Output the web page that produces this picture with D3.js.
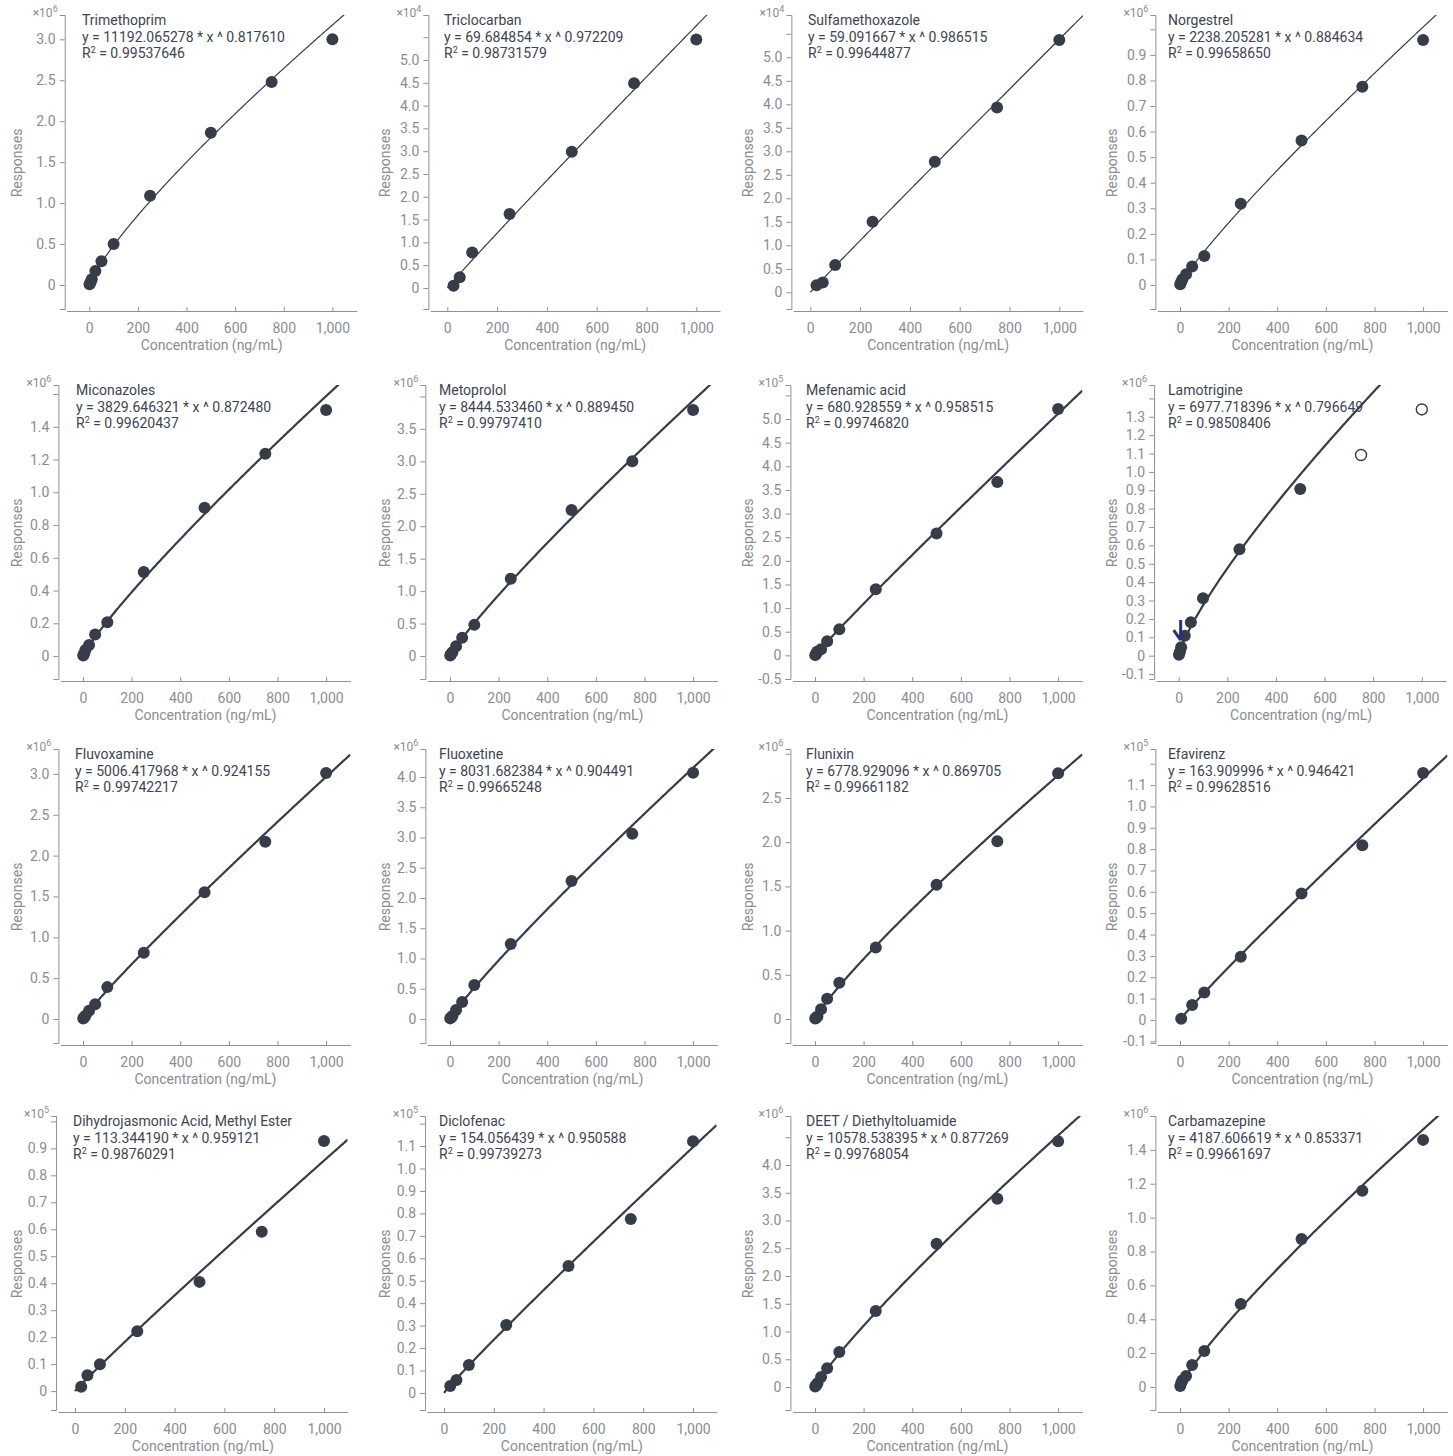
<!DOCTYPE html>
<html>
<head>
<meta charset="utf-8">
<script src="https://cdn.jsdelivr.net/npm/d3@7"></script>
<style>
  html, body { margin: 0; background: #ffffff; }
  svg { display: block; font-family: Roboto, "Noto Sans", sans-serif; }
</style>
</head>
<body>
<svg id="chart" width="1453" height="1456"></svg>
<script>
// ---- calibration data -------------------------------------------------
const compounds = [
  "Trimethoprim", "Triclocarban", "Sulfamethoxazole", "Norgestrel",
  "Miconazoles", "Metoprolol", "Mefenamic acid", "Lamotrigine",
  "Fluvoxamine", "Fluoxetine", "Flunixin", "Efavirenz",
  "Dihydrojasmonic Acid, Methyl Ester", "Diclofenac", "DEET / Diethyltoluamide", "Carbamazepine"
];
// power fit y = a * x ^ b
const coefA = ["11192.065278", "69.684854", "59.091667", "2238.205281",
  "3829.646321", "8444.533460", "680.928559", "6977.718396",
  "5006.417968", "8031.682384", "6778.929096", "163.909996",
  "113.344190", "154.056439", "10578.538395", "4187.606619"];
const coefB = ["0.817610", "0.972209", "0.986515", "0.884634",
  "0.872480", "0.889450", "0.958515", "0.796649",
  "0.924155", "0.904491", "0.869705", "0.946421",
  "0.959121", "0.950588", "0.877269", "0.853371"];
const rSquared = ["0.99537646", "0.98731579", "0.99644877", "0.99658650",
  "0.99620437", "0.99797410", "0.99746820", "0.98508406",
  "0.99742217", "0.99665248", "0.99661182", "0.99628516",
  "0.98760291", "0.99739273", "0.99768054", "0.99661697"];
// responses are shown in units of 10^n
const powerOfTen = [6, 4, 4, 6, 6, 6, 5, 6, 6, 6, 6, 5, 5, 5, 6, 6];

// concentration levels (ng/mL)
const concFull = [1, 5, 10, 25, 50, 100, 250, 500, 750, 1000];
const concHigh = [25, 50, 100, 250, 500, 750, 1000];
const concLamotrigine = [1, 5, 10, 25, 50, 100, 250, 500];
const concEfavirenz = [5, 50, 100, 250, 500, 750, 1000];

// measured responses (scaled by 10^n)
const trimethoprim = [0.008, 0.03, 0.07, 0.17, 0.29, 0.50, 1.09, 1.86, 2.48, 3.00];
const triclocarban = [0.05, 0.235, 0.78, 1.62, 2.99, 4.49, 5.45];
const sulfamethoxazole = [0.15, 0.21, 0.58, 1.50, 2.78, 3.93, 5.37];
const norgestrel = [0.003, 0.012, 0.022, 0.042, 0.072, 0.113, 0.318, 0.565, 0.775, 0.958];
const miconazoles = [0.004, 0.015, 0.037, 0.067, 0.132, 0.206, 0.513, 0.905, 1.235, 1.502];
const metoprolol = [0.008, 0.03, 0.06, 0.15, 0.28, 0.48, 1.19, 2.25, 3.00, 3.79];
const mefenamicAcid = [0.005, 0.04, 0.08, 0.13, 0.30, 0.55, 1.40, 2.58, 3.67, 5.21];
const lamotrigine = [0.005, 0.02, 0.046, 0.109, 0.182, 0.312, 0.579, 0.907];
const fluvoxamine = [0.005, 0.02, 0.04, 0.10, 0.18, 0.39, 0.81, 1.55, 2.17, 3.01];
const fluoxetine = [0.01, 0.03, 0.05, 0.15, 0.28, 0.56, 1.24, 2.28, 3.06, 4.07];
const flunixin = [0.005, 0.015, 0.03, 0.11, 0.23, 0.41, 0.81, 1.52, 2.01, 2.78];
const efavirenz = [0.006, 0.07, 0.128, 0.296, 0.592, 0.818, 1.157];
const dihydrojasmonate = [0.016, 0.059, 0.10, 0.222, 0.405, 0.591, 0.927];
const diclofenac = [0.031, 0.058, 0.125, 0.303, 0.566, 0.775, 1.122];
const deet = [0.01, 0.03, 0.07, 0.18, 0.34, 0.63, 1.37, 2.58, 3.39, 4.43];
const carbamazepine = [0.005, 0.024, 0.04, 0.065, 0.13, 0.213, 0.49, 0.874, 1.158, 1.459];

// Lamotrigine levels excluded from the fit (open markers) and flagged level
const lamotrigineExcludedConc = [750, 1000];
const lamotrigineExcluded = [1.092, 1.34];
const lamotrigineFlag = [8, 0.085];

const panelConc = [concFull, concHigh, concHigh, concFull,
  concFull, concFull, concFull, concLamotrigine,
  concFull, concFull, concFull, concEfavirenz,
  concHigh, concHigh, concFull, concFull];
const panelResp = [trimethoprim, triclocarban, sulfamethoxazole, norgestrel,
  miconazoles, metoprolol, mefenamicAcid, lamotrigine,
  fluvoxamine, fluoxetine, flunixin, efavirenz,
  dihydrojasmonate, diclofenac, deet, carbamazepine];

// y tick spacing and labelled tick range
const yTickStep = [0.5, 0.5, 0.5, 0.1, 0.2, 0.5, 0.5, 0.1, 0.5, 0.5, 0.5, 0.1, 0.1, 0.1, 0.5, 0.2];
const yLabelMin = [0, 0, 0, 0, 0, 0, -0.5, -0.1, 0, 0, 0, -0.1, 0, 0, 0, 0];
const yLabelMax = [3.0, 5.0, 5.0, 0.9, 1.4, 3.5, 5.0, 1.3, 3.0, 4.0, 2.5, 1.1, 0.9, 1.1, 4.0, 1.4];
const xTickValues = [0, 200, 400, 600, 800, 1000];

// ---- layout ------------------------------------------------------------
const yDomains = [
  [-0.293, 3.297], [-0.461, 5.987], [-0.355, 5.900], [-0.094, 1.056],
  [-0.140, 1.655], [-0.354, 4.176], [-0.500, 5.720], [-0.127, 1.473],
  [-0.294, 3.305], [-0.397, 4.463], [-0.271, 3.054], [-0.108, 1.269],
  [-0.070, 1.020], [-0.076, 1.234], [-0.414, 4.883], [-0.136, 1.600]
];
const rowAxisY = [311, 681, 1045, 1412];
const zeroPx = [89.3, 447.3, 810.3, 1180, 83, 450, 815, 1178.7, 83, 450, 815, 1180, 75, 444, 815, 1180];
const titleX = [82, 444, 808, 1168, 76, 439, 806, 1168, 75, 439, 806, 1168, 73, 439, 806, 1168];
const respLabelX = [17, 385, 748, 1112];

const INK = "#363c48";
const TEXT = "#3e4451";
const AXIS = "#8e9195";
const TICK_TEXT = "#8a8d92";

const svg = d3.select("#chart");
const fmtTick = v => Math.abs(v) < 1e-9 ? "0" : v.toFixed(1);

compounds.forEach((name, i) => {
  const row = Math.floor(i / 4), col = i % 4;
  const axisY = rowAxisY[row];
  const conc = panelConc[i];
  const resp = panelResp[i];
  const hasLow = conc[0] < 10;
  const xDom = hasLow ? [-93, 1100] : [-68, 1095];
  const pxPer = hasLow ? 0.2431 : 0.249;
  const x = d3.scaleLinear().domain(xDom)
    .range([zeroPx[i] + xDom[0] * pxPer, zeroPx[i] + xDom[1] * pxPer]);
  const y = d3.scaleLinear().domain(yDomains[i]).range([axisY - 2, axisY - 296]);
  const [x0, x1] = x.range();
  const top = axisY - 296;
  const left = x0 - 2;
  const g = svg.append("g").attr("class", "panel");

  // y axis
  const step = yTickStep[i];
  const [lo, hi] = yDomains[i];
  const ticks = d3.range(Math.ceil(lo / step - 1e-6), Math.floor(hi / step + 1e-6) + 1)
    .map(k => +(k * step).toFixed(3));
  const yAxis = d3.axisLeft(y).tickValues(ticks).tickSize(5).tickSizeOuter(5).tickPadding(4)
    .tickFormat(v => (v >= yLabelMin[i] - 1e-9 && v <= yLabelMax[i] + 1e-9) ? fmtTick(v) : "");
  const gy = g.append("g").attr("transform", `translate(${left},0)`).call(yAxis);
  gy.selectAll("path, line").attr("stroke", AXIS);
  gy.selectAll("text").attr("fill", TICK_TEXT).style("font-size", "14px").style("font-family", "Roboto");

  // x axis
  const xAxis = d3.axisBottom(x).tickValues(xTickValues).tickSize(-4).tickSizeOuter(0).tickPadding(12)
    .tickFormat(d3.format(","));
  const gx = g.append("g").attr("transform", `translate(0,${axisY})`).call(xAxis);
  gx.selectAll("path, line").attr("stroke", AXIS);
  gx.selectAll("text").attr("fill", TICK_TEXT).style("font-size", "14px").style("font-family", "Roboto");

  // axis titles
  g.append("text")
    .attr("x", (x0 + x1) / 2).attr("y", axisY + 39)
    .attr("text-anchor", "middle").attr("fill", TICK_TEXT)
    .style("font-size", "14px")
    .text("Concentration (ng/mL)");
  g.append("text")
    .attr("transform", `translate(${respLabelX[col] + 5},${(axisY + top) / 2}) rotate(-90)`)
    .attr("text-anchor", "middle").attr("fill", TICK_TEXT)
    .style("font-size", "14px")
    .text("Responses");

  // multiplier
  const mult = g.append("text")
    .attr("x", left - 7).attr("y", top + 2)
    .attr("text-anchor", "end").attr("fill", TICK_TEXT)
    .style("font-size", "12px");
  mult.append("tspan").text("×10");
  mult.append("tspan").attr("dy", -5).style("font-size", "9px").text(powerOfTen[i]);

  // fit annotation
  const note = g.append("g").attr("fill", TEXT).style("font-size", "14px");
  note.append("text").attr("x", titleX[i]).attr("y", top + 10).text(name);
  note.append("text").attr("x", titleX[i]).attr("y", top + 26.5)
    .text(`y = ${coefA[i]} * x ^ ${coefB[i]}`);
  const r2 = note.append("text").attr("x", titleX[i]).attr("y", top + 43);
  r2.append("tspan").text("R");
  r2.append("tspan").attr("dy", -5).style("font-size", "9px").text("2");
  r2.append("tspan").attr("dy", 5).text(` = ${rSquared[i]}`);

  // fitted curve
  const clipId = `clip-${i}`;
  svg.append("clipPath").attr("id", clipId)
    .append("rect").attr("x", left).attr("y", top).attr("width", x1 - left).attr("height", axisY - 2 - top);
  const a = +coefA[i], b = +coefB[i], scale = Math.pow(10, powerOfTen[i]);
  const xs = d3.range(0, 20, 0.25).concat(d3.range(20, xDom[1], 5)).concat([xDom[1]]);
  const fit = d3.line().x(d => x(d)).y(d => y(a * Math.pow(d, b) / scale));
  g.append("path")
    .attr("clip-path", `url(#${clipId})`)
    .attr("d", fit(xs))
    .attr("fill", "none").attr("stroke", INK)
    .attr("stroke-width", row === 0 ? 1.2 : 2.2);

  // calibration points
  g.selectAll("circle.pt").data(conc.map((c, k) => [c, resp[k]])).join("circle")
    .attr("class", "pt")
    .attr("cx", d => x(d[0])).attr("cy", d => y(d[1])).attr("r", 6)
    .attr("fill", INK);

  if (name === "Lamotrigine") {
    g.selectAll("circle.ex").data(lamotrigineExcludedConc.map((c, k) => [c, lamotrigineExcluded[k]])).join("circle")
      .attr("class", "ex")
      .attr("cx", d => x(d[0])).attr("cy", d => y(d[1])).attr("r", 5.5)
      .attr("fill", "#ffffff").attr("stroke", INK).attr("stroke-width", 1.4);
    const tx = x(lamotrigineFlag[0]), ty = y(lamotrigineFlag[1]);
    g.append("path")
      .attr("d", `M${tx},${ty - 20}V${ty}M${tx - 7},${ty - 10}L${tx},${ty}`)
      .attr("fill", "none").attr("stroke", "#2c2e7e").attr("stroke-width", 3)
      .attr("stroke-linecap", "butt");
  }
});
</script>
</body>
</html>
